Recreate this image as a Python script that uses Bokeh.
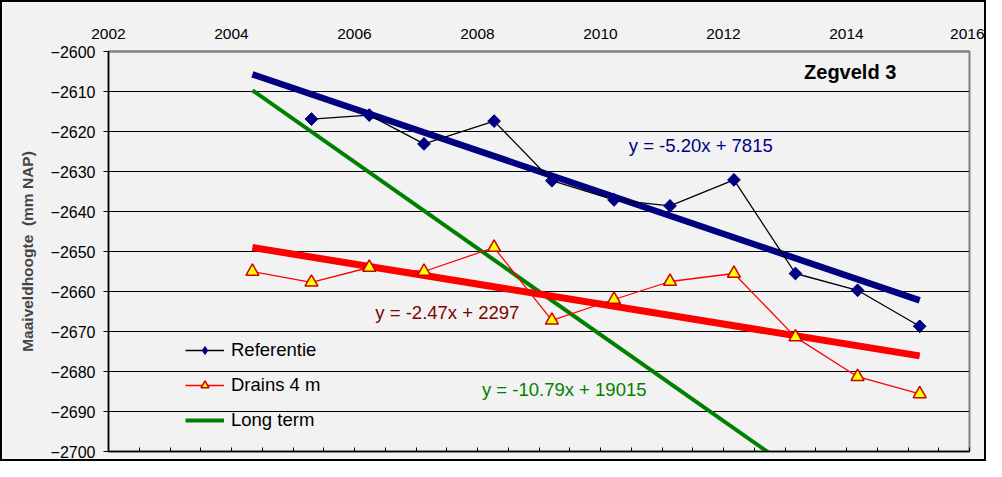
import math
from bokeh.plotting import figure
from bokeh.models import Range1d, LinearAxis, FixedTicker, Legend, LegendItem, Label
from bokeh.embed import file_html
from bokeh.resources import INLINE

# ---- data ----
years_ref = [2005.30, 2006.24, 2007.13, 2008.27, 2009.21, 2010.22, 2011.13, 2012.17, 2013.17, 2014.18, 2015.19]
referentie = [-2616.9, -2615.9, -2623.1, -2617.4, -2632.3, -2637.1, -2638.6, -2632.1, -2655.5, -2659.7, -2668.7]
years_drains = [2004.34, 2005.30, 2006.24, 2007.13, 2008.27, 2009.21, 2010.22, 2011.13, 2012.17, 2013.17, 2014.18, 2015.19]
drains = [-2655.0, -2657.7, -2654.0, -2655.0, -2649.0, -2667.2, -2662.0, -2657.5, -2655.5, -2671.4, -2681.3, -2685.6]

trend_x = [2004.34, 2015.19]
trend_ref = [-2605.7, -2662.2]
trend_drains = [-2649.0, -2676.1]
trend_long = [-2609.7, -2726.8]

x_ticks = [2002, 2004, 2006, 2008, 2010, 2012, 2014, 2016]
x_minor_ticks = [2002 + 0.5 * i for i in range(29)]
y_ticks = list(range(-2700, -2599, 10))

eq_ref = "y = -5.20x + 7815"
eq_drains = "y = -2.47x + 2297"
eq_long = "y = -10.79x + 19015"
title_text = "Zegveld 3"

FONT = "Liberation Sans"
BG = "#f2f2f2"

p = figure(width=986, height=461, output_backend="svg", toolbar_location=None,
           x_range=Range1d(2002, 2016), y_range=Range1d(-2700, -2600),
           x_axis_location=None, y_axis_location="left",
           min_border_left=106, min_border_top=49, min_border_right=19, min_border_bottom=12,
           background_fill_color=BG, border_fill_color=BG)
p.styles = {"border": "2px solid #000", "box-sizing": "border-box"}

p.outline_line_color = "#808080"
p.outline_line_width = 2
p.xgrid.visible = False
p.ygrid.ticker = FixedTicker(ticks=y_ticks)
p.ygrid.grid_line_color = "black"
p.ygrid.grid_line_width = 1

# left axis
ya = p.yaxis[0]
ya.ticker = FixedTicker(ticks=y_ticks)
ya.axis_line_color = "black"
ya.axis_line_width = 1.5
ya.major_tick_out = 5
ya.major_tick_in = 0
ya.minor_tick_out = 0
ya.minor_tick_in = 0
ya.major_tick_line_color = "black"
ya.major_label_text_font = FONT
ya.major_label_text_font_size = "16px"
ya.major_label_text_color = "black"
ya.major_label_standoff = 8
ya.axis_label = "Maaiveldhoogte \u00a0(mm NAP)"
ya.axis_label_text_font = FONT
ya.axis_label_text_font_size = "15.5px"
ya.axis_label_text_font_style = "bold"
ya.axis_label_standoff = 12

# top axis
xa = LinearAxis(ticker=FixedTicker(ticks=x_ticks))
xa.axis_line_color = "#808080"
xa.axis_line_width = 2
xa.major_tick_out = 0
xa.major_tick_in = 0
xa.minor_tick_out = 0
xa.minor_tick_in = 0
xa.major_label_text_font = FONT
xa.major_label_text_font_size = "15.5px"
xa.major_label_text_color = "black"
xa.major_label_standoff = 13
p.add_layout(xa, "above")

# bottom axis: inner tick marks only, no labels
xb = LinearAxis(ticker=FixedTicker(ticks=[], minor_ticks=x_minor_ticks))
xb.axis_line_color = "black"
xb.axis_line_width = 1.5
xb.major_tick_out = 0
xb.major_tick_in = 0
xb.minor_tick_out = 0
xb.minor_tick_in = 4
xb.minor_tick_line_color = "black"
p.add_layout(xb, "below")

# trend lines
r_tl = p.line(trend_x, trend_long, line_color="#008000", line_width=4)
r_tr = p.line(trend_x, trend_drains, line_color="#ff0000", line_width=7)
r_tb = p.line(trend_x, trend_ref, line_color="#000080", line_width=6.5)

# data series
r_dl = p.line(years_drains, drains, line_color="#ff0000", line_width=1.3)
r_dm = p.scatter(years_drains, drains, marker="triangle", size=13, fill_color="#ffff00",
                 line_color="#cc0000", line_width=1.5)
r_rl = p.line(years_ref, referentie, line_color="black", line_width=1.3)
r_rd = p.scatter(years_ref, referentie, marker="diamond", size=12,
                 fill_color="#000080", line_color="#000080")
r_rm = p.scatter(years_ref, referentie, marker="square", angle=math.pi / 4, size=9,
                 fill_color="#000080", line_color="#000080")

# labels
p.add_layout(Label(x=2011.63, y=-2623.6, text=eq_ref, text_font=FONT, text_font_size="18.5px",
                   text_color="#000080", text_align="center", text_baseline="middle"))
p.add_layout(Label(x=2007.51, y=-2665.2, text=eq_drains, text_font=FONT, text_font_size="18.5px",
                   text_color="#800000", text_align="center", text_baseline="middle"))
p.add_layout(Label(x=2009.41, y=-2684.6, text=eq_long, text_font=FONT, text_font_size="18.5px",
                   text_color="#008000", text_align="center", text_baseline="middle"))
p.add_layout(Label(x=2014.06, y=-2605.0, text=title_text, text_font=FONT, text_font_size="20px",
                   text_font_style="bold", text_color="black", text_align="center",
                   text_baseline="middle"))

legend = Legend(items=[
    LegendItem(label="Referentie", renderers=[r_rl, r_rd]),
    LegendItem(label="Drains 4 m", renderers=[r_dl, r_dm]),
    LegendItem(label="Long term", renderers=[r_tl]),
], location=(77, 20))
legend.background_fill_alpha = 0
legend.border_line_alpha = 0
legend.padding = 0
legend.margin = 0
legend.spacing = 13
legend.glyph_width = 39
legend.glyph_height = 20
legend.label_height = 20
legend.label_standoff = 7
legend.label_text_font = FONT
legend.label_text_font_size = "18.5px"
legend.label_text_color = "black"
p.add_layout(legend, "center")

open("out.html", "w").write(file_html(p, INLINE))
